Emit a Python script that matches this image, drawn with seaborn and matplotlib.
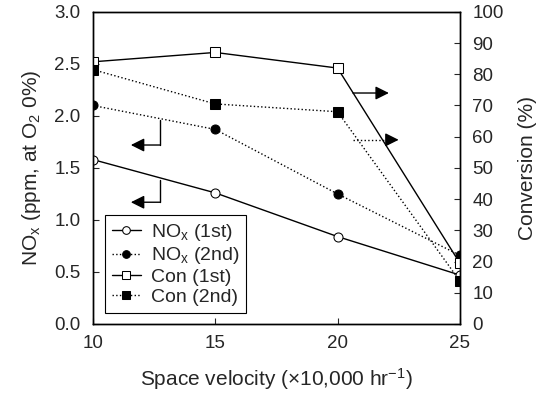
import matplotlib
matplotlib.use("Agg")
import matplotlib.pyplot as plt
import seaborn as sns
import pandas as pd

# values
velocity = [10, 15, 20, 25]
nox_1st = [1.58, 1.26, 0.84, 0.47]
nox_2nd = [2.10, 1.87, 1.25, 0.66]
con_1st = [84, 87, 82, 19.5]
con_2nd = [81.5, 70.5, 68, 13.8]

sns.set_style("ticks")
plt.rcParams['font.family'] = ['Liberation Sans', 'DejaVu Sans']
plt.rcParams['mathtext.fontset'] = 'custom'
plt.rcParams['mathtext.rm'] = 'Liberation Sans'
plt.rcParams['mathtext.it'] = 'Liberation Sans:italic'
plt.rcParams['font.size'] = 13.5
plt.rcParams['xtick.direction'] = 'in'
plt.rcParams['ytick.direction'] = 'in'

df = pd.DataFrame({'sv': velocity, 'nox1': nox_1st, 'nox2': nox_2nd,
                   'con1': con_1st, 'con2': con_2nd})

fig = plt.figure(figsize=(5.5, 3.96), dpi=100)
ax = fig.add_axes([0.169, 0.182, 0.667, 0.788])
ax2 = ax.twinx()

lw = 1.0
ms = 6.5
sns.lineplot(data=df, x='sv', y='nox1', ax=ax, color='black', lw=lw,
             marker='o', markersize=ms, markerfacecolor='white',
             markeredgecolor='black', label=r'NO$_\mathrm{x}$ (1st)')
sns.lineplot(data=df, x='sv', y='nox2', ax=ax, color='black', lw=lw,
             linestyle=':', marker='o', markersize=ms, markerfacecolor='black',
             markeredgecolor='black', label=r'NO$_\mathrm{x}$ (2nd)')
sns.lineplot(data=df, x='sv', y='con1', ax=ax2, color='black', lw=lw,
             marker='s', markersize=ms, markerfacecolor='white',
             markeredgecolor='black', label='Con (1st)')
sns.lineplot(data=df, x='sv', y='con2', ax=ax2, color='black', lw=lw,
             linestyle=':', marker='s', markersize=ms, markerfacecolor='black',
             markeredgecolor='black', label='Con (2nd)')

ax.set_xlim(10, 25)
ax.set_ylim(0, 3.0)
ax2.set_ylim(0, 100)
ax.set_xticks([10, 15, 20, 25])
ax.set_yticks([0, 0.5, 1.0, 1.5, 2.0, 2.5, 3.0])
ax.set_yticklabels(['0.0', '0.5', '1.0', '1.5', '2.0', '2.5', '3.0'])
ax2.set_yticks(range(0, 101, 10))
ax.tick_params(axis='y', length=4, width=0.8, pad=9)
ax.tick_params(axis='x', length=4, width=0.8, pad=8)
ax2.tick_params(length=4, width=0.8, pad=9)
for a in (ax, ax2):
    for s in a.spines.values():
        s.set_linewidth(1.0)
        s.set_color('black')

ax.set_xlabel(r'Space velocity ($\times$10,000 hr$^{-1}$)', fontsize=15, labelpad=10)
ax.set_ylabel(r'NO$_\mathrm{x}$ (ppm, at O$_2$ 0%)', fontsize=15, labelpad=8)
ax2.set_ylabel('Conversion (%)', fontsize=15, labelpad=10)

# legend
handles = ax.get_legend_handles_labels()
handles2 = ax2.get_legend_handles_labels()
if ax.get_legend():
    ax.get_legend().remove()
if ax2.get_legend():
    ax2.get_legend().remove()
leg = ax2.legend(handles[0] + handles2[0], handles[1] + handles2[1],
                 loc='lower left', bbox_to_anchor=(0.033, 0.035),
                 borderaxespad=0,
                 frameon=True, fancybox=False, edgecolor='black',
                 framealpha=1, handlelength=1.5, handletextpad=0.5,
                 borderpad=0.35, labelspacing=0.12, fontsize=14,
                 markerscale=0.85)
leg.get_frame().set_linewidth(0.8)

# axis-pointer arrows
arrow = dict(arrowstyle='-|>,head_length=0.6,head_width=0.3', color='black',
             lw=1.0, shrinkA=0, shrinkB=0)
ax.plot([12.74, 12.74], [1.96, 1.72], color='black', lw=1.0)
ax.annotate('', xy=(11.55, 1.72), xytext=(12.74, 1.72), arrowprops=arrow)
ax.plot([12.74, 12.74], [1.385, 1.17], color='black', lw=1.0)
ax.annotate('', xy=(11.55, 1.17), xytext=(12.74, 1.17), arrowprops=arrow)
ax2.annotate('', xy=(22.1, 74), xytext=(20.63, 74), arrowprops=arrow)
ax2.plot([20.63, 22.1], [59, 59], color='black', lw=1.0, linestyle=':')
ax2.annotate('', xy=(22.5, 59), xytext=(22.05, 59), arrowprops=arrow)

fig.savefig('out.png', dpi=100)
